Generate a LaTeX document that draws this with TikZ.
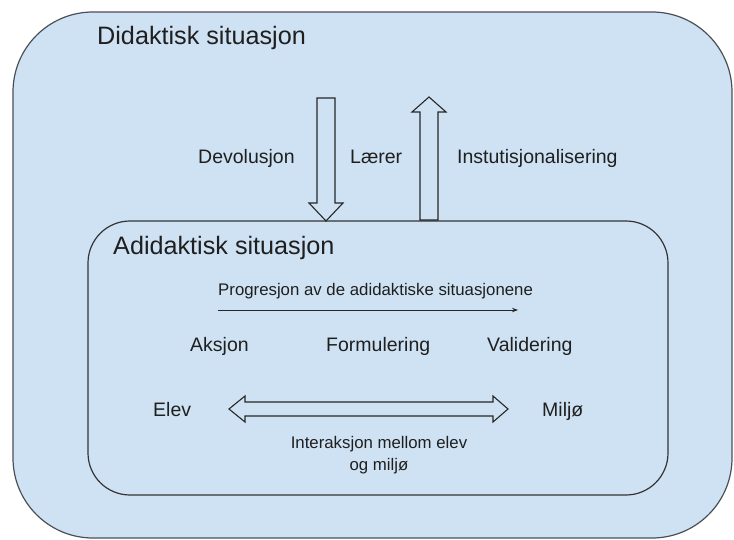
\documentclass[tikz,border=0pt]{standalone}
\usepackage{fontspec}
\setmainfont{Liberation Sans}
\usetikzlibrary{arrows.meta}
\definecolor{boxfill}{HTML}{CFE2F3}
\definecolor{boxline}{HTML}{4A4F55}
\definecolor{txt}{HTML}{1F1F1F}
\begin{document}
\begin{tikzpicture}[x=1pt,y=-1pt,
  lbl/.style={inner sep=0pt,text=txt,anchor=base west},
  big/.style={lbl,font=\fontsize{25.2}{30}\selectfont},
  mid/.style={lbl,font=\fontsize{19.5}{23}\selectfont},
  small/.style={lbl,font=\fontsize{16.8}{21.5}\selectfont},
  blockarrow/.style={draw=black!85,fill=boxfill,line width=1.1pt,line join=miter},
  frame/.style={draw=boxline,fill=boxfill,line width=1.2pt}]
\useasboundingbox (0,0) rectangle (734,540);
% outer and inner situations
\path[frame,rounded corners=80pt] (13,12) rectangle (732,538);
\path[frame,draw=black!80,rounded corners=42pt] (88,221) rectangle (668,495);
% block arrows
\path[blockarrow] (317,98) -- (335,98) -- (335,203) -- (343,203) -- (326,221) -- (309,203) -- (317,203) -- cycle;
\path[blockarrow] (420,220) -- (438,220) -- (438,112) -- (446,112) -- (429,97) -- (412,112) -- (420,112) -- cycle;
\path[blockarrow] (229,409) -- (245,396) -- (245,402) -- (493,402) -- (493,396) -- (508,409) -- (493,422) -- (493,416) -- (245,416) -- (245,422) -- cycle;
% texts
\node[big] (did) at (97,45) {Didaktisk situasjon};
\node[big] (adid) at (113,255) {Adidaktisk situasjon};
\node[mid] (dev) at (198,164) {Devolusjon};
\node[mid] (laer) at (350,164) {Lærer};
\node[mid] (inst) at (457,164) {Instutisjonalisering};
\node[small] (prog) at (218,295) {Progresjon av de adidaktiske situasjonene};
\node[mid] (aks) at (190,351) {Aksjon};
\node[mid] (form) at (326,351) {Formulering};
\node[mid] (val) at (487,351) {Validering};
\node[mid] (elev) at (153,416) {Elev};
\node[mid] (milj) at (542,416) {Miljø};
\node[small,anchor=center,align=center] (inter) at (379,455) {Interaksjon mellom elev\\og miljø};
% progression arrow
\coordinate (ps) at (218,310);
\coordinate (pe) at (518,310);
\draw[black!85,line width=1pt,-{Stealth[length=6pt,width=4.5pt]}] (ps) -- (pe);
\end{tikzpicture}
\end{document}
